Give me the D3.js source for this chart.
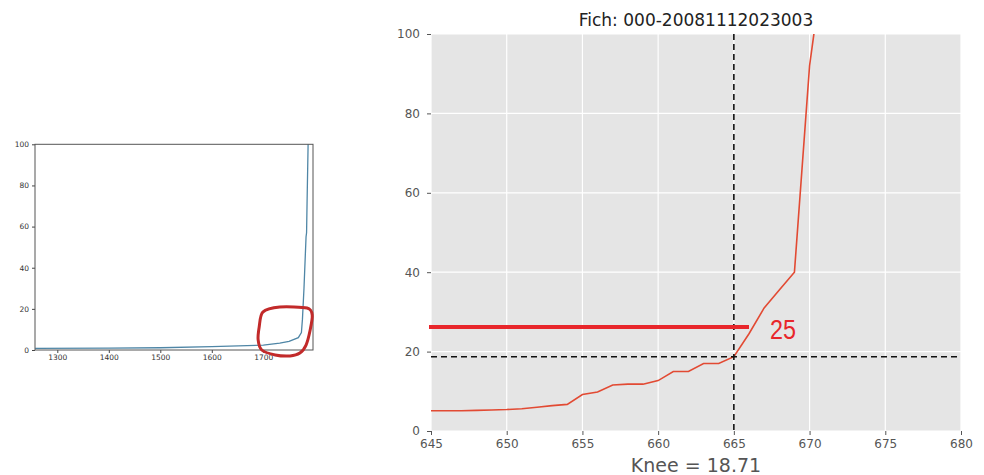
<!DOCTYPE html>
<html>
<head>
<meta charset="utf-8">
<script src="https://cdn.jsdelivr.net/npm/d3@7"></script>
<style>
  body { margin: 0; background: #fff; }
  svg { display: block; }
</style>
</head>
<body>
<div id="chart"></div>
<script>
// left panel: full curve (index vs value)
const fullX = [1257, 1400, 1500, 1600, 1700, 1732, 1750, 1768, 1774, 1776, 1779, 1783, 1784, 1785, 1787, 1787];
const fullY = [0.8, 0.9, 1.1, 1.6, 2.4, 3.3, 4.2, 6.0, 8.5, 15, 30, 55, 57, 72, 100, 110];
const fullXTicks = [1300, 1400, 1500, 1600, 1700];
const fullYTicks = [0, 20, 40, 60, 80, 100];

// hand drawn highlight loop on left panel (data units)
const loopX = [1699, 1732, 1785, 1795, 1791, 1783, 1771, 1752, 1723, 1697, 1690, 1692];
const loopY = [18.4, 20.9, 20.4, 17, 9.7, 2.4, -1.5, -2.9, -2.4, 0, 4.9, 11.2];

// right panel: zoom on the knee
const zoomX = [645, 646, 647, 648, 649, 650, 651, 652, 653, 654, 655, 656, 657, 658, 659, 660, 661, 662, 663, 664, 665, 666, 667, 668, 669, 670, 671];
const zoomY = [5.1, 5.1, 5.1, 5.2, 5.3, 5.4, 5.6, 6.0, 6.4, 6.7, 9.2, 9.8, 11.6, 11.8, 11.8, 12.7, 15.0, 15.0, 17.0, 17.0, 18.71, 24.5, 31.0, 35.5, 40.0, 92.0, 120.0];
const zoomXTicks = [645, 650, 655, 660, 665, 670, 675, 680];
const zoomYTicks = [0, 20, 40, 60, 80, 100];
const kneeX = 665;
const kneeY = 18.71;
const markY = 26.2;
const markXEnd = 666;
const markLabel = '25';
const title = 'Fich: 000-20081112023003';
const xLabel = 'Knee = 18.71';

const W = 984, H = 475;
const svg = d3.select('#chart').append('svg').attr('width', W).attr('height', H);
svg.append('rect').attr('width', W).attr('height', H).attr('fill', '#fff');

// ---------- left panel ----------
const lx = d3.scaleLinear().domain([1256.7, 1796.5]).range([35, 313]);
const ly = d3.scaleLinear().domain([0, 100]).range([350, 144.3]);

const left = svg.append('g');
left.append('clipPath').attr('id', 'clipL')
  .append('rect').attr('x', 35).attr('y', 144.3).attr('width', 278).attr('height', 205.7);

const fullPts = fullX.map((x, i) => [x, fullY[i]]);
left.append('path')
  .datum(fullPts)
  .attr('clip-path', 'url(#clipL)')
  .attr('fill', 'none')
  .attr('stroke', '#4f86a6')
  .attr('stroke-width', 1.3)
  .attr('d', d3.line().x(d => lx(d[0])).y(d => ly(d[1])));

const lxAxis = left.append('g').attr('transform', 'translate(0,350)')
  .call(d3.axisBottom(lx).tickValues(fullXTicks).tickSize(3).tickPadding(2).tickFormat(d3.format('d')));
const lyAxis = left.append('g').attr('transform', 'translate(35,0)')
  .call(d3.axisLeft(ly).tickValues(fullYTicks).tickSize(3).tickPadding(3));
[lxAxis, lyAxis].forEach(a => {
  a.select('.domain').remove();
  a.selectAll('line').attr('stroke', '#444');
  a.selectAll('text').attr('fill', '#333').style('font-family', 'DejaVu Sans').style('font-size', '7.5px');
});

left.append('rect')
  .attr('x', 35).attr('y', 144.3).attr('width', 278).attr('height', 205.7)
  .attr('fill', 'none').attr('stroke', '#555').attr('stroke-width', 1);

const loopPts = loopX.map((x, i) => [x, loopY[i]]);
left.append('path')
  .datum(loopPts)
  .attr('fill', 'none')
  .attr('stroke', '#c22a2a')
  .attr('stroke-width', 3)
  .attr('stroke-linejoin', 'round')
  .attr('d', d3.line().curve(d3.curveCardinalClosed.tension(0.2)).x(d => lx(d[0])).y(d => ly(d[1])));

// ---------- right panel ----------
const x0 = 431, x1 = 961, y0 = 34, y1 = 431;
const rx = d3.scaleLinear().domain([645, 680]).range([x0, x1]);
const ry = d3.scaleLinear().domain([0, 100]).range([y1, y0]);

const right = svg.append('g');
right.append('clipPath').attr('id', 'clipR')
  .append('rect').attr('x', x0).attr('y', y0).attr('width', x1 - x0).attr('height', y1 - y0);

right.append('rect')
  .attr('x', x0).attr('y', y0).attr('width', x1 - x0).attr('height', y1 - y0)
  .attr('fill', '#e5e5e5');

right.append('g').selectAll('line.gx').data(zoomXTicks).join('line')
  .attr('x1', d => rx(d)).attr('x2', d => rx(d)).attr('y1', y0).attr('y2', y1)
  .attr('stroke', '#fff').attr('stroke-width', 1.2);
right.append('g').selectAll('line.gy').data(zoomYTicks).join('line')
  .attr('y1', d => ry(d)).attr('y2', d => ry(d)).attr('x1', x0).attr('x2', x1)
  .attr('stroke', '#fff').attr('stroke-width', 1.2);

const zoomPts = zoomX.map((x, i) => [x, zoomY[i]]);
right.append('path')
  .datum(zoomPts)
  .attr('clip-path', 'url(#clipR)')
  .attr('fill', 'none')
  .attr('stroke', '#e24a33')
  .attr('stroke-width', 1.6)
  .attr('d', d3.line().x(d => rx(d[0])).y(d => ry(d[1])));

// knee cross-hair
right.append('line')
  .attr('x1', rx(kneeX)).attr('x2', rx(kneeX)).attr('y1', y0).attr('y2', y1)
  .attr('stroke', '#111').attr('stroke-width', 1.6).attr('stroke-dasharray', '6,4');
right.append('line')
  .attr('x1', x0).attr('x2', x1).attr('y1', ry(kneeY)).attr('y2', ry(kneeY))
  .attr('stroke', '#111').attr('stroke-width', 1.6).attr('stroke-dasharray', '6,4');

// red annotation
right.append('line')
  .attr('x1', x0 - 2).attr('x2', rx(markXEnd)).attr('y1', ry(markY)).attr('y2', ry(markY))
  .attr('stroke', '#e8262b').attr('stroke-width', 4);
right.append('text')
  .attr('x', rx(markXEnd) + 21).attr('y', ry(markY) + 12)
  .attr('fill', '#e8262b')
  .style('font-family', 'Liberation Sans, Arial, sans-serif')
  .style('font-size', '27px')
  .attr('textLength', 26).attr('lengthAdjust', 'spacingAndGlyphs')
  .text(markLabel);

const rxAxis = right.append('g').attr('transform', `translate(0,${y1})`)
  .call(d3.axisBottom(rx).tickValues(zoomXTicks).tickSize(4).tickPadding(4));
const ryAxis = right.append('g').attr('transform', `translate(${x0},0)`)
  .call(d3.axisLeft(ry).tickValues(zoomYTicks).tickSize(4).tickPadding(7));
[rxAxis, ryAxis].forEach(a => {
  a.select('.domain').remove();
  a.selectAll('line').attr('stroke', '#555');
  a.selectAll('text').attr('fill', '#555').style('font-family', 'DejaVu Sans').style('font-size', '12px');
});

right.append('text')
  .attr('x', (x0 + x1) / 2).attr('y', 26)
  .attr('text-anchor', 'middle')
  .attr('fill', '#222')
  .style('font-family', 'DejaVu Sans')
  .style('font-size', '17px')
  .text(title);

right.append('text')
  .attr('x', (x0 + x1) / 2).attr('y', 472)
  .attr('text-anchor', 'middle')
  .attr('fill', '#555')
  .style('font-family', 'DejaVu Sans')
  .style('font-size', '19px')
  .text(xLabel);
</script>
</body>
</html>
